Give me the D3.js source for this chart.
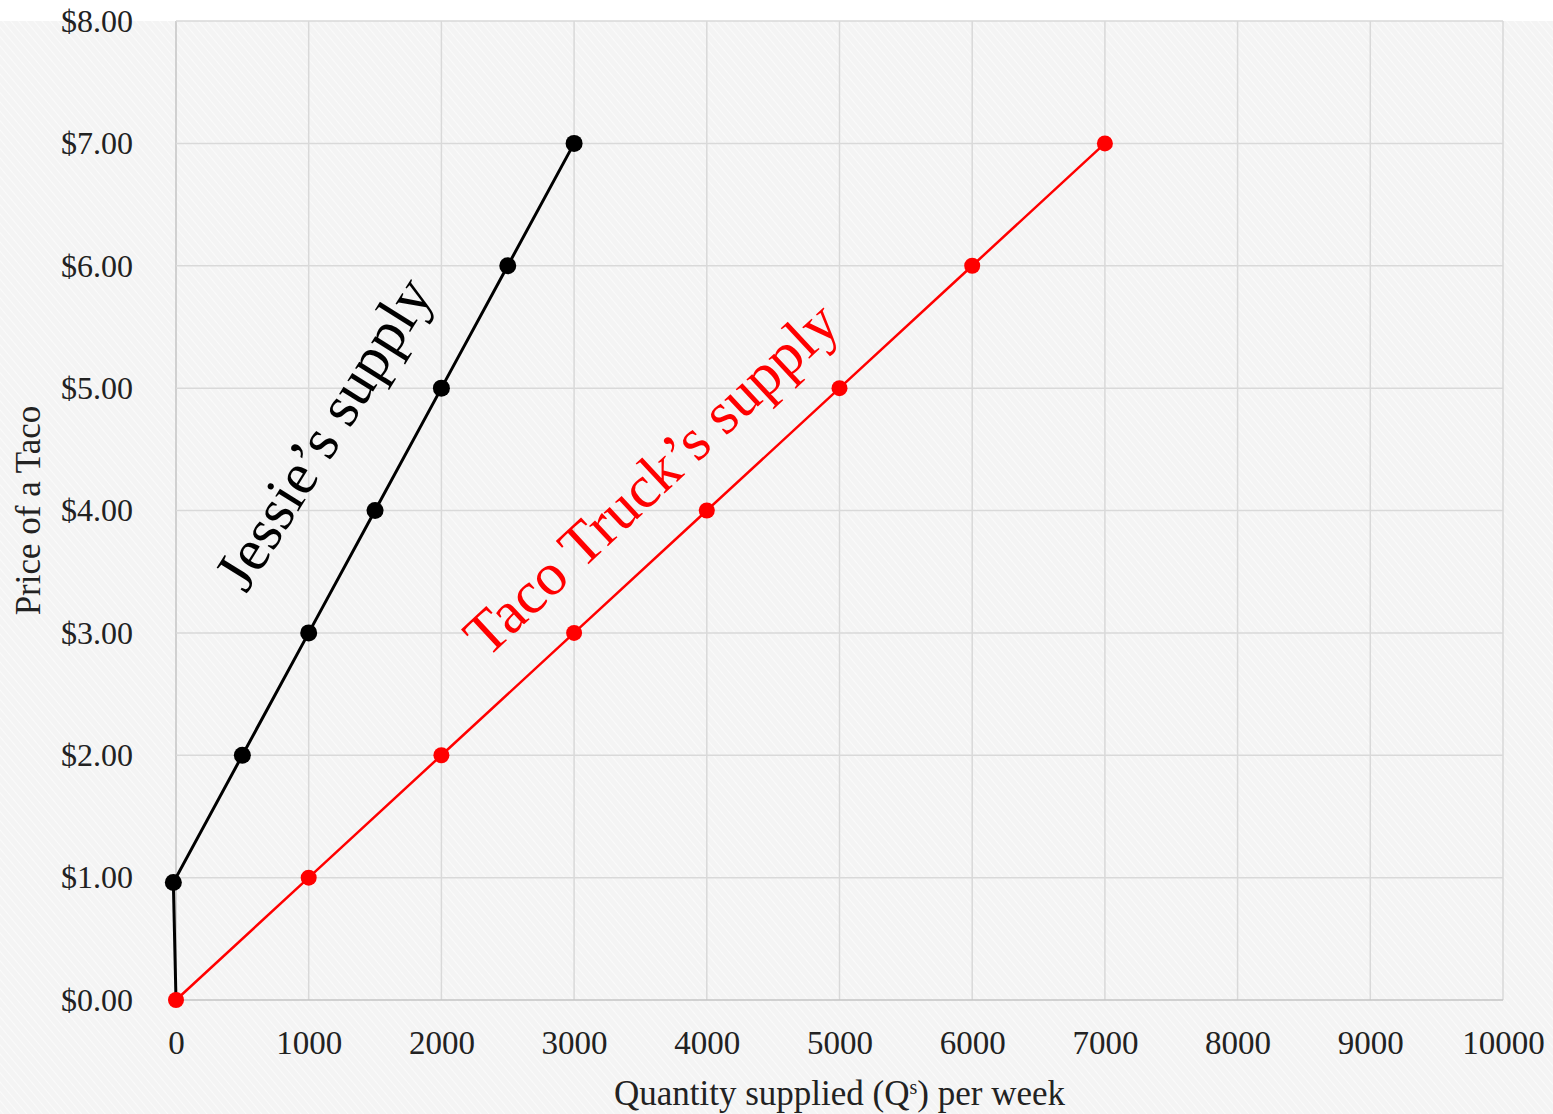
<!DOCTYPE html>
<html>
<head>
<meta charset="utf-8">
<script src="https://cdn.jsdelivr.net/npm/d3@7"></script>
<style>
  html, body { margin: 0; padding: 0; background: #ffffff; }
  svg { display: block; }
  text { font-family: "Liberation Serif", "DejaVu Serif", serif; fill: #222; }
</style>
</head>
<body>
<script>
// Supply schedules (quantity per week, price per taco)
const jessieQty   = [0, -20, 500, 1000, 1500, 2000, 2500, 3000];
const jessiePrice = [0, 0.96, 2, 3, 4, 5, 6, 7];
const truckQty    = [0, 1000, 2000, 3000, 4000, 5000, 6000, 7000];
const truckPrice  = [0, 1, 2, 3, 4, 5, 6, 7];

const xTicks = [0, 1000, 2000, 3000, 4000, 5000, 6000, 7000, 8000, 9000, 10000];
const yTicks = [0, 1, 2, 3, 4, 5, 6, 7, 8];

const W = 1553, H = 1114;
const margin = { left: 176, right: 50, top: 21, bottom: 114 };

const svg = d3.select("body").append("svg").attr("width", W).attr("height", H);

// faint diagonal paper texture
const defs = svg.append("defs");
const pat = defs.append("pattern").attr("id", "paper")
  .attr("width", 6).attr("height", 6)
  .attr("patternUnits", "userSpaceOnUse")
  .attr("patternTransform", "rotate(-40)");
pat.append("rect").attr("width", 6).attr("height", 6).attr("fill", "#f4f4f4");
pat.append("line").attr("x1", 0).attr("y1", 0).attr("x2", 0).attr("y2", 6)
  .attr("stroke", "#fafafa").attr("stroke-width", 2);

svg.append("rect").attr("x", 0).attr("y", margin.top).attr("width", W).attr("height", H - margin.top)
  .attr("fill", "url(#paper)");

const x = d3.scaleLinear().domain([0, 10000]).range([margin.left, W - margin.right]);
const y = d3.scaleLinear().domain([0, 8]).range([H - margin.bottom, margin.top]);

// gridlines
const grid = svg.append("g");
grid.selectAll("line.v").data(xTicks).join("line")
  .attr("x1", d => x(d)).attr("x2", d => x(d))
  .attr("y1", y(8)).attr("y2", y(0))
  .attr("stroke", d => d === 0 ? "#c4c4c4" : "#d9d9d9").attr("stroke-width", 1.5);
grid.selectAll("line.h").data(yTicks).join("line")
  .attr("x1", x(0)).attr("x2", x(10000))
  .attr("y1", d => y(d)).attr("y2", d => y(d))
  .attr("stroke", d => d === 0 ? "#c4c4c4" : "#d9d9d9").attr("stroke-width", 1.5);

// axes (labels only)
const fmt = d => "$" + d3.format(".2f")(d);
const yAxis = svg.append("g").attr("transform", `translate(${x(0) - 43},0)`)
  .call(d3.axisLeft(y).tickValues(yTicks).tickFormat(fmt).tickSize(0));
yAxis.select(".domain").remove();
yAxis.selectAll("text").attr("font-size", 32).attr("fill", "#222")
  .attr("font-family", "Liberation Serif, serif").attr("x", 0);

const xAxis = svg.append("g").attr("transform", `translate(0,${y(0) + 28})`)
  .call(d3.axisBottom(x).tickValues(xTicks).tickFormat(d3.format("d")).tickSize(0));
xAxis.select(".domain").remove();
xAxis.selectAll("text").attr("font-size", 33).attr("fill", "#222")
  .attr("font-family", "Liberation Serif, serif").attr("dy", "0.71em");

// axis titles
const xt = svg.append("text").attr("x", (x(0) + x(10000)) / 2).attr("y", 1105)
  .attr("text-anchor", "middle").attr("font-size", 35);
xt.append("tspan").text("Quantity supplied (Q");
xt.append("tspan").text("s").attr("font-size", 20).attr("baseline-shift", "55%");
xt.append("tspan").text(") per week");

svg.append("text")
  .attr("transform", `translate(40,${(y(0) + y(8)) / 2}) rotate(-90)`)
  .attr("text-anchor", "middle").attr("font-size", 35).text("Price of a Taco");

// series
const line = d3.line().x(d => x(d[0])).y(d => y(d[1]));
const jessie = jessieQty.map((q, i) => [q, jessiePrice[i]]);
const truck = truckQty.map((q, i) => [q, truckPrice[i]]);

svg.append("path").datum(jessie).attr("d", line)
  .attr("fill", "none").attr("stroke", "#000").attr("stroke-width", 3);
svg.append("path").datum(truck).attr("d", line)
  .attr("fill", "none").attr("stroke", "#ff0000").attr("stroke-width", 2.5);

svg.append("g").selectAll("circle").data(jessie.slice(1)).join("circle")
  .attr("cx", d => x(d[0])).attr("cy", d => y(d[1])).attr("r", 8.5).attr("fill", "#000");
svg.append("g").selectAll("circle").data(truck).join("circle")
  .attr("cx", d => x(d[0])).attr("cy", d => y(d[1])).attr("r", 8).attr("fill", "#ff0000");

// curve labels
svg.append("text")
  .attr("transform", `translate(${x(1110)},${y(4.63)}) rotate(-58)`)
  .attr("text-anchor", "middle").attr("dominant-baseline", "central")
  .attr("font-size", 60).style("fill", "#000").text("Jessie’s supply");
svg.append("text")
  .attr("transform", `translate(${x(3580)},${y(4.26)}) rotate(-43)`)
  .attr("text-anchor", "middle").attr("dominant-baseline", "central")
  .attr("font-size", 60).style("fill", "#ff0000").text("Taco Truck’s supply");
</script>
</body>
</html>
